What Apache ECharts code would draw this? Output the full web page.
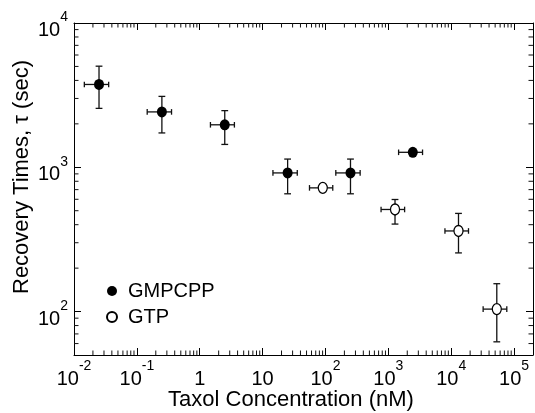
<!DOCTYPE html>
<html><head><meta charset="utf-8">
<script src="https://cdn.jsdelivr.net/npm/echarts@6/dist/echarts.min.js"></script>
<style>html,body{margin:0;padding:0;background:#fff}#c{width:535px;height:413px}</style>
</head><body><div id="c"></div>
<script>
// ---- data ----
const gmpX   = [0.025, 0.25, 2.5, 25, 250, 2450];
const gmpY   = [3750, 2420, 1970, 914, 914, 1270];
const gmpXLo = [0.0146, 0.146, 1.48, 14.6, 146, 1456];
const gmpXHi = [0.0356, 0.356, 3.56, 35.6, 356, 3500];
const gmpYLo = [2560, 1730, 1440, 655, 655, 1270];
const gmpYHi = [5020, 3100, 2470, 1140, 1140, 1270];

const gtpX   = [90.6, 1277, 13060, 53100];
const gtpY   = [720, 510, 362, 104];
const gtpXLo = [55.7, 766, 7950, 32200];
const gtpXHi = [130.6, 1815, 18840, 76600];
const gtpYLo = [720, 404, 255, 61.7];
const gtpYHi = [720, 598, 479, 156];

const seriesNames = ['GMPCPP', 'GTP'];
const xTitle = 'Taxol Concentration (nM)';
const yTitle = 'Recovery Times, \u03c4 (sec)';
const X_MIN = 0.01, X_MAX = 2e5, Y_MIN = 50, Y_MAX = 1e4;

// ---- build ----
const FONT = '"Liberation Sans", Arial, Helvetica, sans-serif';
function zip() { const a = arguments; return a[0].map((_, i) => Array.prototype.map.call(a, arr => arr[i])); }
const gmpRows = zip(gmpX, gmpY, gmpXLo, gmpXHi, gmpYLo, gmpYHi);
const gtpRows = zip(gtpX, gtpY, gtpXLo, gtpXHi, gtpYLo, gtpYHi);

function ln(x1, y1, x2, y2, w) {
  return { type: 'line', shape: { x1, y1, x2, y2 }, style: { stroke: '#111', lineWidth: w || 1.3 } };
}
function errRender(params, api) {
  const x = api.value(0), y = api.value(1);
  const xl = api.value(2), xh = api.value(3), yl = api.value(4), yh = api.value(5);
  const pL = api.coord([xl, y]), pR = api.coord([xh, y]);
  const pB = api.coord([x, yl]), pT = api.coord([x, yh]);
  const hc = 2.8, vc = 3.4;
  const ch = [
    ln(pL[0], pL[1], pR[0], pR[1]),
    ln(pL[0], pL[1] - hc, pL[0], pL[1] + hc),
    ln(pR[0], pR[1] - hc, pR[0], pR[1] + hc)
  ];
  if (yh > yl) {
    ch.push(ln(pB[0], pB[1], pT[0], pT[1]));
    ch.push(ln(pB[0] - vc, pB[1], pB[0] + vc, pB[1]));
    ch.push(ln(pT[0] - vc, pT[1], pT[0] + vc, pT[1]));
  }
  return { type: 'group', children: ch };
}
function minorRender(params, api) {
  const ch = [], L = 4.5;
  for (let e = -2; e <= 5; e++) for (let m = 2; m <= 9; m++) {
    const v = m * Math.pow(10, e);
    if (v >= X_MAX) continue;
    const pb = api.coord([v, Y_MIN]), pt = api.coord([v, Y_MAX]);
    ch.push(ln(pb[0], pb[1], pb[0], pb[1] - L, 1));
    ch.push(ln(pt[0], pt[1], pt[0], pt[1] + L, 1));
  }
  for (let e = 1; e <= 3; e++) for (let m = 2; m <= 9; m++) {
    const v = m * Math.pow(10, e);
    if (v <= Y_MIN || v >= Y_MAX) continue;
    const pl = api.coord([X_MIN, v]), pr = api.coord([X_MAX, v]);
    ch.push(ln(pl[0], pl[1], pl[0] + L, pl[1], 1));
    ch.push(ln(pr[0], pr[1], pr[0] - L, pr[1], 1));
  }
  return { type: 'group', children: ch };
}
function powLabel(v) {
  const lg = Math.log10(v), e = Math.round(lg);
  if (Math.abs(lg - e) > 1e-6) return '';
  if (e === 0) return '{b|1}';
  if (e === 1) return '{b|10}';
  return '{b|10}{s|' + e + '}';
}
const rich = {
  b: { fontSize: 20, fontFamily: FONT, color: '#000', lineHeight: 30, verticalAlign: 'bottom' },
  s: { fontSize: 14, fontFamily: FONT, color: '#000', verticalAlign: 'top' }
};
const axLine = { show: true, lineStyle: { color: '#000', width: 1 } };
const axTick = { show: true, inside: true, length: 7, lineStyle: { color: '#000', width: 1 } };

const chart = echarts.init(document.getElementById('c'), null, { renderer: 'canvas' });
chart.setOption({
  animation: false,
  backgroundColor: '#fff',
  grid: { left: 74, right: 2, top: 23, bottom: 58, containLabel: false, outerBoundsMode: 'none' },
  xAxis: [
    { type: 'log', logBase: 10, min: X_MIN, max: X_MAX, position: 'bottom', splitNumber: 7,
      axisLine: axLine, axisTick: axTick, splitLine: { show: false },
      axisLabel: { formatter: powLabel, rich: rich, margin: 4, interval: 0, showMinLabel: true, showMaxLabel: true, hideOverlap: false } },
    { type: 'log', logBase: 10, min: X_MIN, max: X_MAX, position: 'top', splitNumber: 7,
      axisLine: axLine, axisTick: axTick, splitLine: { show: false }, axisLabel: { show: false } }
  ],
  yAxis: [
    { type: 'log', logBase: 10, min: Y_MIN, max: Y_MAX, position: 'left',
      axisLine: axLine, axisTick: axTick, splitLine: { show: false },
      axisLabel: { formatter: powLabel, rich: rich, margin: 6, padding: [5, 0, 0, 0], showMinLabel: true, showMaxLabel: true, hideOverlap: false } },
    { type: 'log', logBase: 10, min: Y_MIN, max: Y_MAX, position: 'right',
      axisLine: axLine, axisTick: axTick, splitLine: { show: false }, axisLabel: { show: false } }
  ],
  legend: {
    data: seriesNames, orient: 'vertical', left: 106, top: 281, padding: 0, itemGap: 6,
    itemWidth: 10, itemHeight: 11,
    textStyle: { fontSize: 20, fontFamily: FONT, color: '#000', padding: [0, 0, 0, 6] }
  },
  graphic: [
    { type: 'text', x: 291, y: 400, style: { text: xTitle, fontSize: 22, fontFamily: FONT, fill: '#000', align: 'center', verticalAlign: 'middle' } },
    { type: 'text', x: 22, y: 177, rotation: Math.PI / 2, style: { text: yTitle, fontSize: 22, fontFamily: FONT, fill: '#000', align: 'center', verticalAlign: 'middle' } }
  ],
  series: [
    { type: 'custom', name: 'minor', silent: true, clip: false, renderItem: minorRender, data: [[X_MIN, Y_MIN]], z: 1 },
    { type: 'custom', name: 'errGMP', silent: true, renderItem: errRender, data: gmpRows, encode: { x: 0, y: 1 }, z: 2 },
    { type: 'custom', name: 'errGTP', silent: true, renderItem: errRender, data: gtpRows, encode: { x: 0, y: 1 }, z: 2 },
    { type: 'scatter', name: seriesNames[0], data: zip(gmpX, gmpY), symbol: 'circle', symbolSize: [10, 11],
      itemStyle: { color: '#000', opacity: 1 }, z: 5 },
    { type: 'scatter', name: seriesNames[1], data: zip(gtpX, gtpY), symbol: 'circle', symbolSize: [9, 11],
      itemStyle: { color: '#fff', borderColor: '#000', borderWidth: 1.3, opacity: 1 }, z: 5 }
  ]
});
</script>
</body></html>
